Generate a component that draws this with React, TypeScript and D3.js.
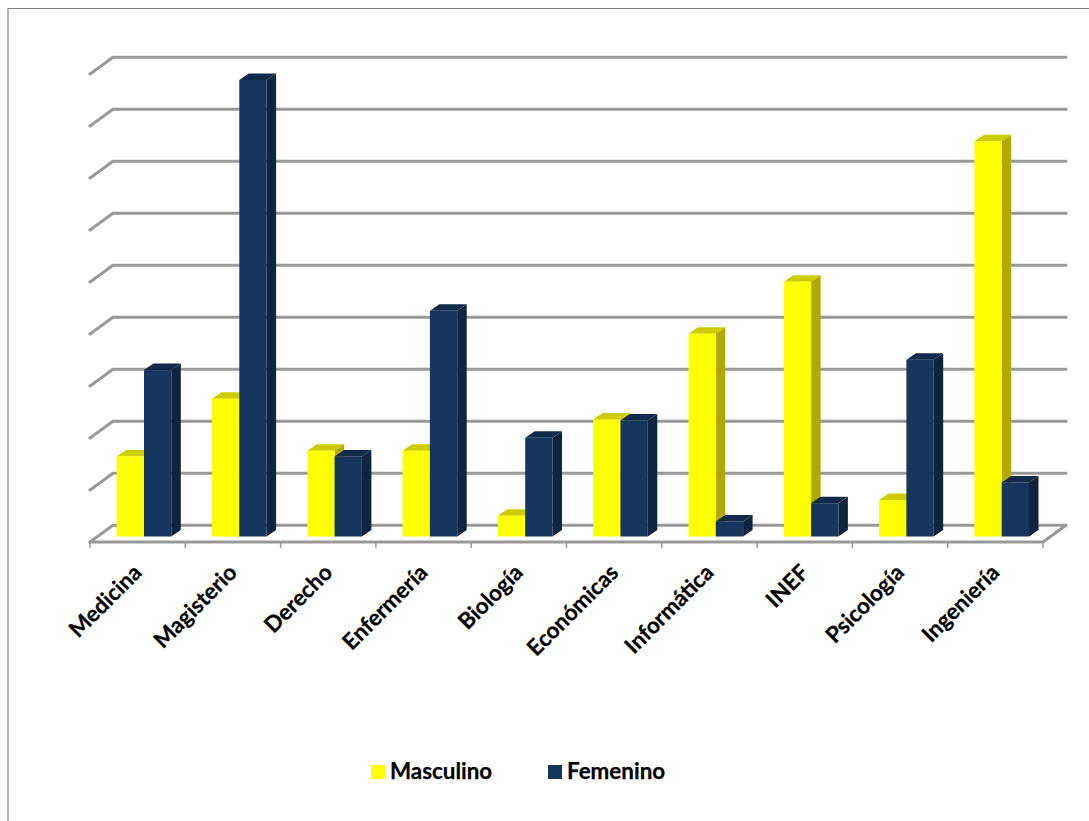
import React from "react";
import * as d3 from "d3";

const categories = ["Medicina", "Magisterio", "Derecho", "Enfermería", "Biología", "Económicas", "Informática", "INEF", "Psicología", "Ingeniería"];
const masculino = [15.4, 26.5, 16.5, 16.5, 4, 22.5, 39, 49, 7, 76];
const femenino = [32, 87.8, 15.4, 43.4, 19, 22.3, 2.9, 6.4, 34, 10.4];
const gridValues = [0, 10, 20, 30, 40, 50, 60, 70, 80, 90];

const W = 1089, H = 821;
const x = d3.scaleBand<string>().domain(categories).range([90, 1043]);
const yFront = d3.scaleLinear().domain([0, 90]).range([542, 74]);
const barBase = 536.5;
const barY = (v: number) => barBase - (yFront(0) - yFront(v));
const dxWall = 23, dyWall = 16.7;
const dxBar = 9.5, dyBar = 6.5;
const barW = 27.3;
const barStart = 26.7;

const COLORS = {
  m: { front: "#ffff00", side: "#b3a800", top: "#cccc00" },
  f: { front: "#17365d", side: "#0f243e", top: "#11294a" },
};

function Bar({ x0, v, c }: { x0: number; v: number; c: { front: string; side: string; top: string } }) {
  const t = barY(v);
  const x1 = x0 + barW;
  return (
    <g>
      <polygon points={`${x1},${t} ${x1 + dxBar},${t - dyBar} ${x1 + dxBar},${barBase - dyBar} ${x1},${barBase}`} fill={c.side} />
      <polygon points={`${x0},${t} ${x0 + dxBar},${t - dyBar} ${x1 + dxBar},${t - dyBar} ${x1},${t}`} fill={c.top} />
      <rect x={x0} y={t} width={barW} height={barBase - t} fill={c.front} />
    </g>
  );
}

export default function App() {
  const grid = "#999999";
  const left = x.range()[0], right = x.range()[1];
  return (
    <svg width={W} height={H} style={{ position: "absolute", left: 0, top: 0, background: "#fff" }}>
      <defs>
        <filter id="soft" x="-5%" y="-5%" width="110%" height="110%">
          <feGaussianBlur stdDeviation="0.6" />
        </filter>
      </defs>
      <path d={`M8,${H} V8.5 H${W}`} fill="none" stroke="#7f7f7f" strokeWidth={1.2} />
      <g fill="none" stroke={grid} strokeWidth={3} strokeLinecap="round" strokeLinejoin="round" filter="url(#soft)">
        {gridValues.map((g) => {
          const yy = yFront(g);
          return <path key={g} d={`M${left},${yy} L${left + dxWall},${yy - dyWall} H${right + dxWall}`} />;
        })}
        <path d={`M${left},${yFront(0)} H${right} L${right + dxWall},${yFront(0) - dyWall}`} />
      </g>
      <g stroke={grid} strokeWidth={1.5}>
        {[...categories, ""].map((c, i) => {
          const tx = left + i * x.bandwidth();
          return <line key={i} x1={tx} x2={tx} y1={yFront(0)} y2={yFront(0) + 6} />;
        })}
      </g>
      <g>
        {categories.map((c, i) => {
          const x0 = (x(c) as number) + barStart;
          return (
            <g key={c}>
              <Bar x0={x0} v={masculino[i]} c={COLORS.m} />
              <Bar x0={x0 + barW} v={femenino[i]} c={COLORS.f} />
            </g>
          );
        })}
      </g>
      <g fontFamily="Lato, 'Noto Sans', sans-serif" fontWeight={700} fontSize={22.4} fill="#000" stroke="#000" strokeWidth={0.25}>
        {categories.map((c) => {
          const tx = (x(c) as number) + x.bandwidth() / 2 + 5.5;
          return (
            <text key={c} transform={`translate(${tx},574) rotate(-45)`} textAnchor="end">{c}</text>
          );
        })}
        <text x={390} y={779}>Masculino</text>
        <text x={567} y={779}>Femenino</text>
      </g>
      <rect x={371} y={765} width={14} height={14} fill={COLORS.m.front} />
      <rect x={548} y={765} width={14} height={14} fill={COLORS.f.front} />
    </svg>
  );
}
